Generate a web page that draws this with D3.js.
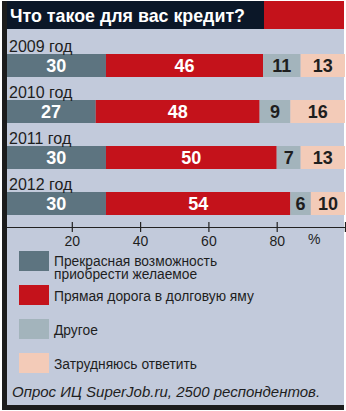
<!DOCTYPE html>
<html>
<head>
<meta charset="utf-8">
<script src="https://cdn.jsdelivr.net/npm/d3@7"></script>
<style>
  html, body { margin: 0; padding: 0; background: #ffffff; }
  svg { display: block; font-family: "Liberation Sans", Arial, sans-serif; }
</style>
</head>
<body>
<svg id="chart" width="346" height="411"></svg>
<script>
// Survey answers, per cent of respondents
const years = ["2009 год", "2010 год", "2011 год", "2012 год"];
const seriesNames = [
  ["Прекрасная возможность", "приобрести желаемое"],
  ["Прямая дорога в долговую яму"],
  ["Другое"],
  ["Затрудняюсь ответить"]
];
const opportunity = [30, 27, 30, 30];
const debtTrap = [46, 48, 50, 54];
const other = [11, 9, 7, 6];
const unsure = [13, 16, 13, 10];
const tickValues = [20, 40, 60, 80, 100];

const colors = ["#5d7480", "#c4121b", "#a3b4bc", "#f3cbb8"];
const labelColors = ["#ffffff", "#ffffff", "#1e1e1e", "#1e1e1e"];

const svg = d3.select("#chart");

// Panel background
svg.append("rect").attr("x", 2).attr("y", 28).attr("width", 342).attr("height", 380)
  .attr("fill", "#c2cadb");

// Title bar
svg.append("rect").attr("x", 2).attr("y", 1).attr("width", 342).attr("height", 28)
  .attr("fill", "#0b1728");
svg.append("rect").attr("x", 264).attr("y", 1).attr("width", 80).attr("height", 28)
  .attr("fill", "#c4121b");
svg.append("text").attr("x", 10).attr("y", 21.5)
  .attr("fill", "#ffffff").attr("font-size", 19).attr("font-weight", "bold")
  .attr("textLength", 235).attr("lengthAdjust", "spacingAndGlyphs")
  .text("Что такое для вас кредит?");

// Scales
const x = d3.scaleLinear().domain([0, 100]).range([3.5, 345]);
const y = d3.scaleBand().domain(years).range([54, 215]).paddingInner(0.5).paddingOuter(0);

// Stack the four answers per year
const rows = years.map((yr, i) => ({
  year: yr, s0: opportunity[i], s1: debtTrap[i], s2: other[i], s3: unsure[i]
}));
const stack = d3.stack().keys(["s0", "s1", "s2", "s3"]);
const layers = stack(rows);

const g = svg.append("g");
layers.forEach((layer, li) => {
  const lg = g.append("g");
  lg.selectAll("rect").data(layer).join("rect")
    .attr("x", d => x(d[0]))
    .attr("y", d => y(d.data.year))
    .attr("width", d => x(d[1]) - x(d[0]))
    .attr("height", y.bandwidth())
    .attr("fill", colors[li]);
  lg.selectAll("text").data(layer).join("text")
    .attr("x", d => (x(d[0]) + x(d[1])) / 2 + (li === 0 ? 1.5 : 0))
    .attr("y", d => y(d.data.year) + y.bandwidth() / 2 + 6.5)
    .attr("text-anchor", "middle")
    .attr("font-size", 18).attr("font-weight", "bold")
    .attr("fill", labelColors[li])
    .text(d => d[1] - d[0]);
});

// Year labels above each bar
g.selectAll("text.year").data(years).join("text")
  .attr("class", "year")
  .attr("x", 9)
  .attr("y", d => y(d) - 2.5)
  .attr("font-size", 16).attr("fill", "#1e1e1e")
  .text(d => d);

// Axis
const axis = d3.axisBottom(x).tickValues(tickValues).tickSizeOuter(0).tickSize(5)
  .tickFormat(d => d === 100 ? "" : d);
const ax = svg.append("g").attr("transform", "translate(0,227)").call(axis);
ax.select(".domain").attr("stroke", "#222").attr("stroke-width", 1.2);
ax.selectAll(".tick line").attr("y1", -5).attr("stroke", "#222").attr("stroke-width", 1.2);
ax.selectAll(".tick text").attr("y", 9).attr("font-size", 14)
  .attr("font-family", "Liberation Sans, Arial, sans-serif").attr("fill", "#1e1e1e");
svg.append("text").attr("x", x(91)).attr("y", 243.5).attr("text-anchor", "middle")
  .attr("font-size", 14).attr("fill", "#1e1e1e").text("%");

// Legend
const legendTop = [251, 285, 319, 353];
const leg = svg.append("g");
seriesNames.forEach((lines, i) => {
  leg.append("rect").attr("x", 19).attr("y", legendTop[i]).attr("width", 30).attr("height", 20)
    .attr("fill", colors[i]);
  lines.forEach((ln, j) => {
    leg.append("text").attr("x", 54)
      .attr("y", legendTop[i] + (lines.length > 1 ? 14.5 + j * 13.5 : 16))
      .attr("font-size", 13.8).attr("fill", "#1e1e1e")
      .text(ln);
  });
});

// Source note
svg.append("text").attr("x", 12).attr("y", 397)
  .attr("font-size", 15).attr("font-style", "italic").attr("fill", "#1e1e1e")
  .text("Опрос ИЦ SuperJob.ru, 2500 респондентов.");

// Frame: left rule and bottom rule
svg.append("rect").attr("x", 2).attr("y", 1).attr("width", 5).attr("height", 409).attr("fill", "#1c1c1c");
svg.append("rect").attr("x", 2).attr("y", 405).attr("width", 342).attr("height", 5).attr("fill", "#1c1c1c");
</script>
</body>
</html>
